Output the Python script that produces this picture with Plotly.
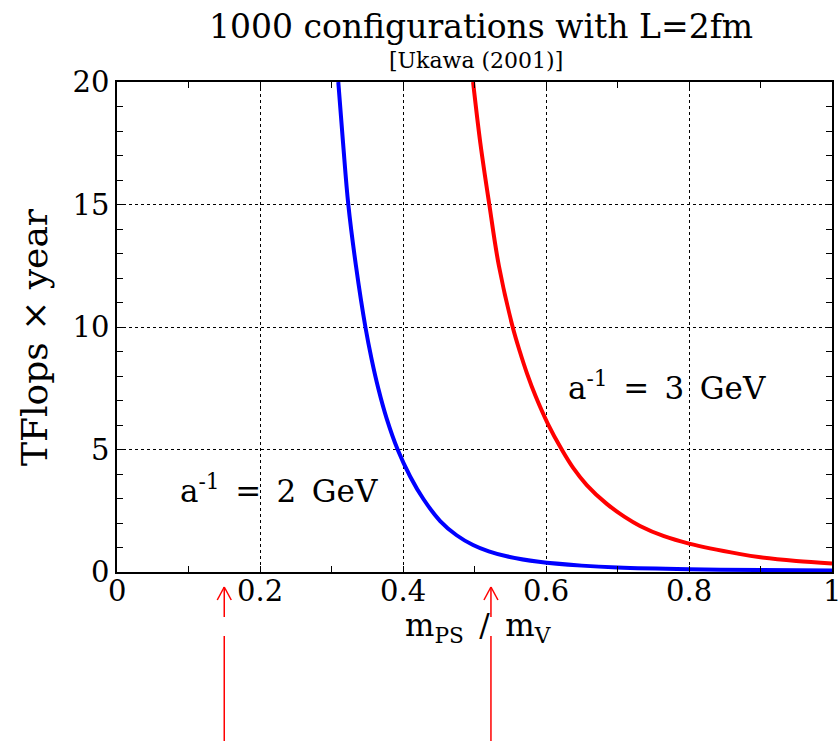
import plotly.graph_objects as go

# ---- data ----
blue_x = [0.3095, 0.3162, 0.3235, 0.3342, 0.3474, 0.356, 0.3654, 0.3773, 0.3925, 0.41,
          0.4285, 0.452, 0.475, 0.498, 0.52, 0.545, 0.59, 0.65, 0.70, 0.80, 0.90, 1.00]
blue_y = [20.0, 17.5, 15.0, 12.5, 10.0, 8.7, 7.5, 6.25, 5.0, 3.9,
          2.98, 2.08, 1.5, 1.1, 0.84, 0.64, 0.42, 0.26, 0.18, 0.11, 0.08, 0.06]

red_x = [0.498, 0.5082, 0.5207, 0.5341, 0.5534, 0.5634, 0.5735, 0.5858, 0.6026, 0.622,
         0.638, 0.657, 0.685, 0.71, 0.7315, 0.765, 0.80, 0.87, 0.90, 0.95, 1.00]
red_y = [20.0, 17.5, 15.0, 12.5, 10.0, 9.0, 8.1, 7.15, 6.05, 5.0,
         4.25, 3.55, 2.78, 2.25, 1.88, 1.46, 1.16, 0.74, 0.60, 0.45, 0.35]

SP = "\u2002"
label_2gev = f"a<sup>-1</sup>{SP}={SP}2{SP}GeV"
label_3gev = f"a<sup>-1</sup>{SP}={SP}3{SP}GeV"
arrow_x = [0.15, 0.523]

x_ticks = [0, 0.2, 0.4, 0.6, 0.8, 1]
x_ticktext = ["0", "0.2", "0.4", "0.6", "0.8", "1"]
y_ticks = [0, 5, 10, 15, 20]
y_ticktext = ["0", "5", "10", "15", "20"]

# ---- layout geometry ----
W, H = 840, 741
L, R, T, B = 117, 8, 82, 169
PW = W - L - R
PH = H - T - B
FONT = "DejaVu Serif"
TICKFONT = dict(family=FONT, size=29, color="black")


def px2py(py):
    return (H - B - py) / PH


def px2px(px):
    return (px - L) / PW


fig = go.Figure()
fig.add_trace(go.Scatter(x=blue_x, y=blue_y, mode="lines",
                         line=dict(color="#0000ff", width=4, shape="spline", smoothing=1.0),
                         showlegend=False))
fig.add_trace(go.Scatter(x=red_x, y=red_y, mode="lines",
                         line=dict(color="#ff0000", width=4, shape="spline", smoothing=1.0),
                         showlegend=False))

axis_common = dict(showline=True, linecolor="black", linewidth=1.5, mirror="allticks",
                   ticks="inside", ticklen=6, tickcolor="black", tickwidth=1,
                   showgrid=True, gridcolor="black", griddash="dot", gridwidth=1,
                   zeroline=False, automargin=False, tickfont=TICKFONT)

fig.update_xaxes(range=[0, 1], tickvals=x_ticks, ticktext=x_ticktext, showticklabels=False,
                 minor=dict(dtick=0.1, ticks="inside", ticklen=6, tickcolor="black", showgrid=False),
                 **axis_common)
fig.update_yaxes(range=[0, 20], tickvals=y_ticks, ticktext=y_ticktext,
                 minor=dict(dtick=1, ticks="inside", ticklen=6, tickcolor="black", showgrid=False),
                 **axis_common)

ann = []
# x tick labels placed on the x scale
for v, t in zip(x_ticks, x_ticktext):
    ann.append(dict(text=t, xref="x", yref="paper", x=v, y=px2py(591),
                    xanchor="center", yanchor="middle", showarrow=False, font=TICKFONT))
ann.append(dict(text="1000 configurations with L=2fm", xref="paper", yref="paper",
                x=px2px(481), y=px2py(27), xanchor="center", yanchor="middle",
                showarrow=False, font=dict(family=FONT, size=33, color="black")))
ann.append(dict(text="[Ukawa (2001)]", xref="paper", yref="paper",
                x=px2px(476), y=px2py(61), xanchor="center", yanchor="middle",
                showarrow=False, font=dict(family=FONT, size=22, color="black")))
ann.append(dict(text="TFlops \u00d7 year", xref="paper", yref="paper",
                x=px2px(34), y=px2py(337), xanchor="center", yanchor="middle", textangle=-90,
                showarrow=False, font=dict(family=FONT, size=36, color="black")))
ann.append(dict(text=f"m<sub>PS</sub>{SP}/{SP}m<sub>V</sub>", xref="paper", yref="paper",
                x=px2px(478), y=px2py(627), xanchor="center", yanchor="middle",
                showarrow=False, font=dict(family=FONT, size=31, color="black")))
ann.append(dict(text=label_2gev, xref="x", yref="y", x=px2px(178), y=3.4,
                xanchor="left", yanchor="middle", showarrow=False,
                font=dict(family=FONT, size=31, color="black")))
ann.append(dict(text=label_3gev, xref="x", yref="y", x=px2px(566), y=7.6,
                xanchor="left", yanchor="middle", showarrow=False,
                font=dict(family=FONT, size=31, color="black")))

shapes = []
dx = 7 / PW
for ax_ in arrow_x:
    seg = dict(type="line", xref="x", yref="paper", line=dict(color="#ff0000", width=1.5))
    shapes.append({**seg, "x0": ax_, "x1": ax_, "y0": px2py(587), "y1": px2py(617)})
    shapes.append({**seg, "x0": ax_, "x1": ax_, "y0": px2py(636), "y1": px2py(745)})
    shapes.append({**seg, "x0": ax_ - dx, "x1": ax_, "y0": px2py(600), "y1": px2py(587)})
    shapes.append({**seg, "x0": ax_ + dx, "x1": ax_, "y0": px2py(600), "y1": px2py(587)})

fig.update_layout(width=W, height=H, margin=dict(l=L, r=R, t=T, b=B, autoexpand=False),
                  paper_bgcolor="white", plot_bgcolor="white",
                  annotations=ann, shapes=shapes, showlegend=False)

fig.write_html("out.html")
